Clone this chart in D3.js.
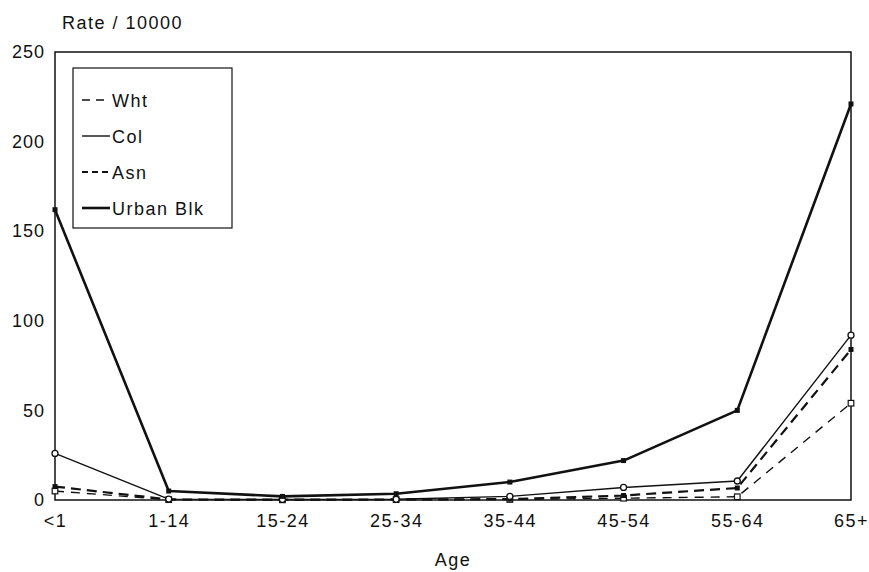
<!DOCTYPE html>
<html>
<head>
<meta charset="utf-8">
<script src="https://cdn.jsdelivr.net/npm/d3@7"></script>
<style>
  html, body { margin: 0; padding: 0; background: #fff; }
  svg text { font-family: "Liberation Sans", Arial, Helvetica, sans-serif; fill: #111; }
</style>
</head>
<body>
<svg id="chart" width="869" height="572"></svg>
<script>
// Age-specific rates per 10,000 by group
const ageGroups = ["<1", "1-14", "15-24", "25-34", "35-44", "45-54", "55-64", "65+"];
const whtRates = [5, 0.2, 0.1, 0.2, 0.3, 1, 1.8, 54];
const colRates = [26, 0.5, 0.3, 0.4, 2, 7, 10.6, 92];
const asnRates = [7.5, 0.3, 0.2, 0.3, 0.5, 2.5, 6.7, 84];
const urbanBlkRates = [162, 5, 2, 3.5, 10, 22, 50, 221];
const yTickValues = [0, 50, 100, 150, 200, 250];
const seriesNames = ["Wht", "Col", "Asn", "Urban Blk"];

const svg = d3.select("#chart");
const margin = { left: 55, right: 18, top: 52, bottom: 72 };
const W = 869, H = 572;

const x = d3.scalePoint().domain(ageGroups).range([margin.left, W - margin.right]);
const y = d3.scaleLinear().domain([0, 250]).range([H - margin.bottom, margin.top]);

// line styles per series
const styles = {
  "Wht":       { values: whtRates,      width: 1.4, dash: "9,7",  marker: "openSquare" },
  "Col":       { values: colRates,      width: 1.4, dash: null,   marker: "openCircle" },
  "Asn":       { values: asnRates,      width: 2.2, dash: "10,6", marker: "filledSquare" },
  "Urban Blk": { values: urbanBlkRates, width: 2.6, dash: null,   marker: "filledSquare" }
};

// frame
svg.append("rect")
  .attr("x", margin.left).attr("y", margin.top)
  .attr("width", x.range()[1] - margin.left)
  .attr("height", y(0) - margin.top)
  .attr("fill", "none").attr("stroke", "#111").attr("stroke-width", 1.5);

// y axis labels
const yAxis = svg.append("g")
  .attr("transform", `translate(${margin.left},0)`)
  .call(d3.axisLeft(y).tickValues(yTickValues).tickSize(0).tickPadding(10).tickFormat(d3.format("d")));
yAxis.select(".domain").remove();
yAxis.selectAll("text")
  .style("font-family", '"Liberation Sans", Arial, sans-serif')
  .style("font-size", "18px").style("letter-spacing", "1px").attr("fill", "#111");

// x axis labels
const xAxis = svg.append("g")
  .attr("transform", `translate(0,${y(0)})`)
  .call(d3.axisBottom(x).tickSize(0).tickPadding(14));
xAxis.select(".domain").remove();
xAxis.selectAll("text")
  .style("font-family", '"Liberation Sans", Arial, sans-serif')
  .style("font-size", "18px").style("letter-spacing", "1.5px").attr("fill", "#111");

// axis titles
svg.append("text")
  .attr("x", 62).attr("y", 29)
  .style("font-size", "18px").style("letter-spacing", "1.5px")
  .text("Rate / 10000");
svg.append("text")
  .attr("x", (margin.left + x.range()[1]) / 2).attr("y", 566)
  .attr("text-anchor", "middle")
  .style("font-size", "18px").style("letter-spacing", "1.5px")
  .text("Age");

// series lines
const line = d3.line().x((d, i) => x(ageGroups[i])).y(d => y(d));
const drawOrder = ["Wht", "Asn", "Col", "Urban Blk"];
drawOrder.forEach(name => {
  const s = styles[name];
  svg.append("path")
    .datum(s.values)
    .attr("d", line)
    .attr("fill", "none")
    .attr("stroke", "#111")
    .attr("stroke-width", s.width)
    .attr("stroke-dasharray", s.dash)
    .attr("stroke-linejoin", "round");
});

// markers
drawOrder.forEach(name => {
  const s = styles[name];
  const g = svg.append("g");
  s.values.forEach((v, i) => {
    const cx = x(ageGroups[i]), cy = y(v);
    if (s.marker === "openCircle") {
      g.append("circle").attr("cx", cx).attr("cy", cy).attr("r", 3)
        .attr("fill", "#fff").attr("stroke", "#111").attr("stroke-width", 1.3);
    } else if (s.marker === "openSquare") {
      g.append("rect").attr("x", cx - 2.8).attr("y", cy - 2.8).attr("width", 5.6).attr("height", 5.6)
        .attr("fill", "#fff").attr("stroke", "#111").attr("stroke-width", 1.2);
    } else {
      g.append("rect").attr("x", cx - 2.5).attr("y", cy - 2.5).attr("width", 5).attr("height", 5)
        .attr("fill", "#111");
    }
  });
});

// legend
const legend = svg.append("g");
legend.append("rect")
  .attr("x", 73).attr("y", 68).attr("width", 159).attr("height", 160)
  .attr("fill", "#fff").attr("stroke", "#111").attr("stroke-width", 1.2);
const legendDash = { "Wht": "8,6", "Col": null, "Asn": "6,4", "Urban Blk": null };
seriesNames.forEach((name, i) => {
  const ly = 100 + i * 36;
  legend.append("line")
    .attr("x1", 82).attr("x2", 110).attr("y1", ly).attr("y2", ly)
    .attr("stroke", "#111")
    .attr("stroke-width", styles[name].width)
    .attr("stroke-dasharray", legendDash[name]);
  legend.append("text")
    .attr("x", 112).attr("y", ly + 6.5)
    .style("font-size", "18px").style("letter-spacing", "1.5px")
    .text(name);
});
</script>
</body>
</html>
